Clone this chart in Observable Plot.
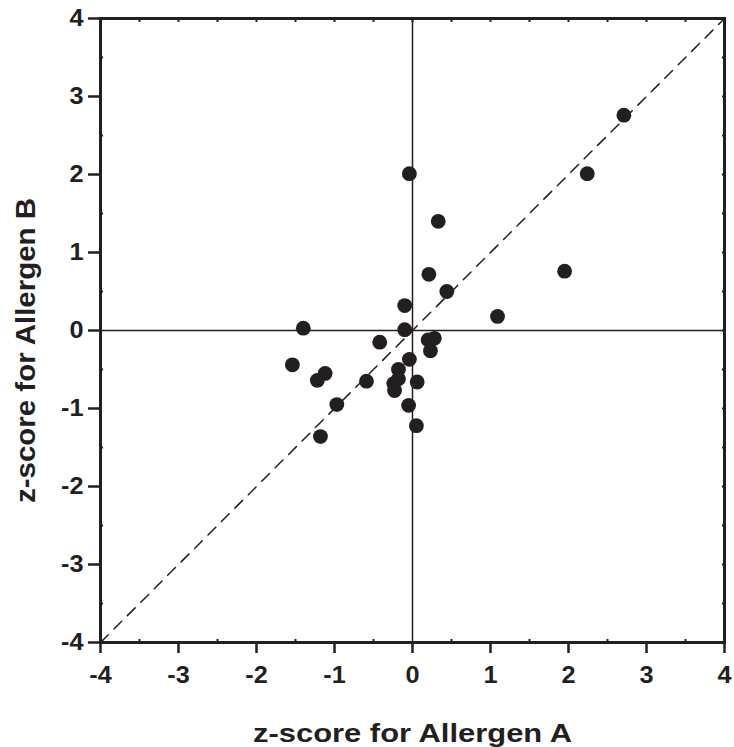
<!DOCTYPE html>
<html>
<head>
<meta charset="utf-8">
<script src="https://cdn.jsdelivr.net/npm/d3@7"></script>
<script src="https://cdn.jsdelivr.net/npm/@observablehq/plot@0.6"></script>
<style>
  html, body { margin: 0; padding: 0; background: #fff; }
  #chart svg { display: block; }
</style>
</head>
<body>
<div id="chart"></div>
<script>
// z-scores of each sample for the two allergens
const allergenA = [2.71, 2.24, -0.04, 0.33, 0.21, 1.95, 0.44, -0.10, 1.09, -1.40,
                   -0.10, -0.42, 0.20, 0.28, 0.23, -0.04, -1.54, -1.12, -1.22, -0.18,
                   -0.18, -0.24, -0.23, -0.59, 0.06, -0.97, -0.05, 0.05, -1.18];
const allergenB = [2.76, 2.01, 2.01, 1.40, 0.72, 0.76, 0.50, 0.32, 0.18, 0.03,
                   0.01, -0.15, -0.12, -0.10, -0.26, -0.37, -0.44, -0.55, -0.64, -0.50,
                   -0.62, -0.68, -0.77, -0.65, -0.66, -0.95, -0.96, -1.22, -1.36];

// axis range and tick values
const zDomain = [-4, 4];
const majorTicks = [-4, -3, -2, -1, 0, 1, 2, 3, 4];
const halfTicks = [-3.5, -2.5, -1.5, -0.5, 0.5, 1.5, 2.5, 3.5];
const allTicks = [...majorTicks, ...halfTicks];
const xTitle = "z-score for Allergen A";
const yTitle = "z-score for Allergen B";

const samples = allergenA.map((a, i) => ({a, b: allergenB[i]}));

const ink = "#231f20";
const font = "'Liberation Sans', Arial, Helvetica, sans-serif";

const chart = Plot.plot({
  width: 734,
  height: 747,
  marginLeft: 100,
  marginRight: 10,
  marginTop: 18,
  marginBottom: 105,
  style: {fontFamily: font, color: ink, background: "#fff"},
  x: {domain: zDomain},
  y: {domain: zDomain},
  marks: [
    // zero reference lines
    Plot.ruleX([0], {stroke: ink, strokeWidth: 1.5}),
    Plot.ruleY([0], {stroke: ink, strokeWidth: 1.5}),
    // identity line
    Plot.line(zDomain, {x: d => d, y: d => d, stroke: ink, strokeWidth: 1.5, strokeDasharray: "11,8"}),
    // samples
    Plot.dot(samples, {x: "a", y: "b", r: 7.4, fill: ink, stroke: "none"}),
    // major ticks and numbers
    Plot.axisX({anchor: "bottom", ticks: majorTicks, tickSize: 11, tickPadding: 13,
      tickFormat: d => String(d), strokeWidth: 2.5, fontSize: 23, fontWeight: "bold", label: null}),
    Plot.axisY({anchor: "left", ticks: majorTicks, tickSize: 12, tickPadding: 5,
      tickFormat: d => String(d), strokeWidth: 2.5, fontSize: 23, fontWeight: "bold", label: null}),
    // small inward ticks
    Plot.axisX({anchor: "bottom", ticks: halfTicks, tickSize: -3, text: null, label: null, strokeWidth: 2}),
    Plot.axisY({anchor: "left", ticks: halfTicks, tickSize: -3, text: null, label: null, strokeWidth: 2}),
    Plot.axisX({anchor: "top", ticks: allTicks, tickSize: -3, text: null, label: null, strokeWidth: 2}),
    Plot.axisY({anchor: "right", ticks: allTicks, tickSize: -3, text: null, label: null, strokeWidth: 2}),
    Plot.frame({stroke: ink, strokeWidth: 3}),
    // axis titles
    Plot.text([xTitle], {frameAnchor: "bottom", text: d => d, textAnchor: "middle", dy: 99,
      fontSize: 26, fontWeight: "bold", fill: ink}),
    Plot.text([yTitle], {frameAnchor: "left", text: d => d, textAnchor: "middle", rotate: -90,
      dx: -74, dy: 20, fontSize: 28, fontWeight: "bold", fill: ink})
  ]
});

document.getElementById("chart").append(chart);

// the type is set slightly wide: stretch each label horizontally
d3.select(chart).selectAll("text").each(function () {
  const label = this.textContent.trim();
  const len = this.getComputedTextLength();
  if (!len) return;
  let target = len * 1.1;
  if (label === xTitle) target = 319;
  if (label === yTitle) target = 305;
  d3.select(this).attr("textLength", target).attr("lengthAdjust", "spacingAndGlyphs");
});
</script>
</body>
</html>
